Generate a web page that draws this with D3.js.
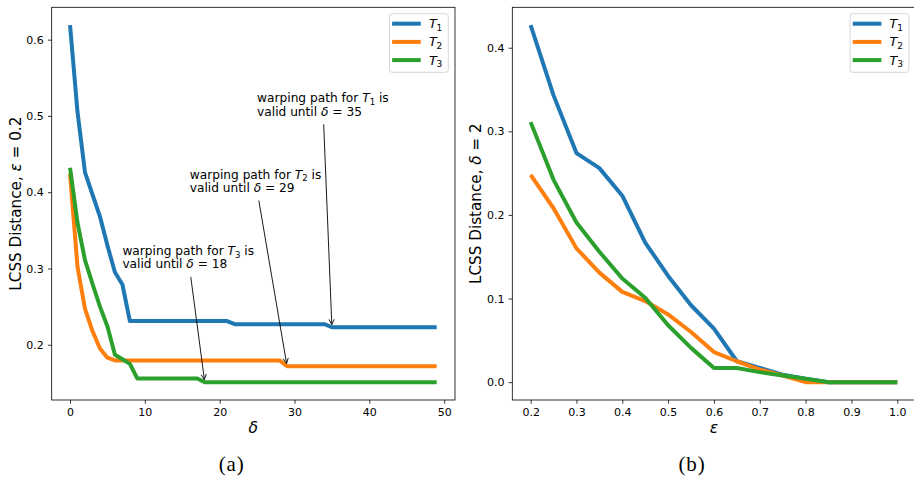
<!DOCTYPE html>
<html><head><meta charset="utf-8">
<script src="https://cdn.jsdelivr.net/npm/d3@7"></script>
<style>body{margin:0;background:#fff} text{white-space:pre}</style>
</head><body><svg id="c" width="914" height="481" font-family="DejaVu Sans, sans-serif"></svg>
<script>
// ---------- DATA ----------
// panel (a): x = delta
const deltaVals = [0,1,2,3,4,5,6,7,8,9,10,11,12,13,14,15,16,17,18,19,20,21,22,23,24,
  25,26,27,28,29,30,31,32,33,34,35,36,37,38,39,40,41,42,43,44,45,46,47,48,49];
const a_T1 = [0.619,0.505,0.426,0.397,0.368,0.330,0.295,0.279,
  0.231,0.231,0.231,0.231,0.231,0.231,0.231,0.231,0.231,0.231,0.231,0.231,0.231,0.231,
  0.227,0.227,0.227,0.227,0.227,0.227,0.227,0.227,0.227,0.227,0.227,0.227,0.227,
  0.223,0.223,0.223,0.223,0.223,0.223,0.223,0.223,0.223,0.223,0.223,0.223,0.223,0.223,0.223];
const a_T2 = [0.424,0.302,0.247,0.218,0.195,0.183,
  0.1795,0.1795,0.1795,0.1795,0.1795,0.1795,0.1795,0.1795,0.1795,0.1795,0.1795,0.1795,
  0.1795,0.1795,0.1795,0.1795,0.1795,0.1795,0.1795,0.1795,0.1795,0.1795,0.1795,
  0.172,0.172,0.172,0.172,0.172,0.172,0.172,0.172,0.172,0.172,0.172,
  0.172,0.172,0.172,0.172,0.172,0.172,0.172,0.172,0.172,0.172,0.172];
const a_T3 = [0.432,0.360,0.311,0.280,0.250,0.224,0.187,0.181,0.175,
  0.1557,0.1557,0.1557,0.1557,0.1557,0.1557,0.1557,0.1557,0.1557,
  0.151,0.151,0.151,0.151,0.151,0.151,0.151,0.151,0.151,0.151,0.151,0.151,0.151,0.151,0.151,0.151,
  0.151,0.151,0.151,0.151,0.151,0.151,0.151,0.151,0.151,0.151,0.151,0.151,0.151,0.151,0.151,0.151];
// panel (b): x = epsilon
const epsVals = [0.20,0.25,0.30,0.35,0.40,0.45,0.50,0.55,0.60,0.65,0.70,0.75,0.80,0.85,0.90,0.95,1.00];
const b_T1 = [0.427,0.343,0.274,0.256,0.223,0.167,0.127,0.092,0.064,0.025,0.017,0.009,0.004,0,0,0,0];
const b_T2 = [0.248,0.208,0.160,0.131,0.108,0.097,0.081,0.060,0.036,0.025,0.015,0.008,0.000,0,0,0,0];
const b_T3 = [0.311,0.242,0.191,0.156,0.124,0.101,0.068,0.041,0.017,0.017,0.012,0.008,0.004,0,0,0,0];
// ticks
const a_xTicks = [0,10,20,30,40,50];
const a_yTicks = [0.2,0.3,0.4,0.5,0.6];
const b_xTicks = [0.2,0.3,0.4,0.5,0.6,0.7,0.8,0.9,1.0];
const b_yTicks = [0.0,0.1,0.2,0.3,0.4];
const seriesNames = ['1','2','3'];
// annotations on panel (a)
const annSeries = [0,1,2];
const annTargetX = [35,29,18];
const annTextX = [25,16,7];
const annTextY = [0.5,0.4,0.3];

// ---------- DRAW ----------
const SANS = '"DejaVu Sans", sans-serif';
const svg = d3.select('#c');
const colors = ['#1f77b4','#ff7f0e','#2ca02c'];

function panel(o){
  const {x0,x1,y0,y1,xVals,series} = o;
  const xe = d3.extent(xVals), xp = (xe[1]-xe[0])*0.05;
  const ye = d3.extent(series.flat()), yp = (ye[1]-ye[0])*0.05;
  const x = d3.scaleLinear().domain([xe[0]-xp, xe[1]+xp]).range([x0,x1]);
  const y = d3.scaleLinear().domain([ye[0]-yp, ye[1]+yp]).range([y1,y0]);
  const g = svg.append('g').style('font-family',SANS);

  const gx = g.append('g').attr('transform',`translate(0,${y1})`)
    .call(d3.axisBottom(x).tickValues(o.xTicks).tickFormat(o.xFmt).tickSize(3.7).tickPadding(4.6).tickSizeOuter(0));
  const gy = g.append('g').attr('transform',`translate(${x0},0)`)
    .call(d3.axisLeft(y).tickValues(o.yTicks).tickFormat(d3.format('.1f')).tickSize(3.7).tickPadding(4.2).tickSizeOuter(0));
  [gx,gy].forEach(a=>{
    a.select('.domain').remove();
    a.attr('font-size',11).attr('font-family',SANS);
    a.selectAll('line').attr('stroke','#000').attr('stroke-width',0.8);
    a.selectAll('text').attr('fill','#000');
  });

  const line = d3.line().x((d,i)=>x(xVals[i])).y(d=>y(d));
  series.forEach((s,k)=>{
    g.append('path').attr('d',line(s)).attr('fill','none').attr('stroke',colors[k])
      .attr('stroke-width',4).attr('stroke-linejoin','round').attr('stroke-linecap','butt');
  });

  g.append('rect').attr('x',x0).attr('y',y0).attr('width',x1-x0).attr('height',y1-y0)
    .attr('fill','none').attr('stroke','#000').attr('stroke-width',0.8);

  // x label
  g.append('text').attr('x',(x0+x1)/2).attr('y',432.5).attr('text-anchor','middle')
    .attr('font-size',15.5).attr('font-style','italic').text(o.xLabel);
  // y label
  const yl = g.append('text').attr('transform',`translate(${o.yLabelX},${(y0+y1)/2}) rotate(-90)`)
    .attr('text-anchor','middle').attr('dominant-baseline','central').attr('font-size',15.2);
  yl.append('tspan').text('LCSS Distance, ');
  yl.append('tspan').attr('font-style','italic').text(o.yLabelSym);
  yl.append('tspan').text(' = ' + o.yLabelVal);

  // legend
  const bw = 58.8, bh = 58.6, bx = x1 - 6.7 - bw, by = y0 + 6.4;
  g.append('rect').attr('x',bx).attr('y',by).attr('width',bw).attr('height',bh).attr('rx',2.5)
    .attr('fill','#fff').attr('fill-opacity',0.8).attr('stroke','#cccccc').attr('stroke-width',0.8);
  seriesNames.forEach((n,k)=>{
    const ly = by + 10 + k*18.2;
    g.append('line').attr('x1',bx+2.6).attr('x2',bx+31.3).attr('y1',ly).attr('y2',ly)
      .attr('stroke',colors[k]).attr('stroke-width',4);
    const t = g.append('text').attr('x',bx+39.4).attr('y',ly+4.4).attr('font-size',12.6);
    t.append('tspan').attr('font-style','italic').text('T');
    t.append('tspan').attr('font-size',9).attr('dy',2.8).text(n);
  });

  // caption
  g.append('text').attr('x',o.capX).attr('y',471).attr('text-anchor','middle')
    .style('font-family','"Liberation Serif", "DejaVu Serif", serif').attr('font-size',21).attr('letter-spacing',0.8)
    .text(o.caption);
  return {x,y,g};
}

const A = panel({x0:51.7,x1:455,y0:7.3,y1:400,xVals:deltaVals,series:[a_T1,a_T2,a_T3],
  xTicks:a_xTicks,yTicks:a_yTicks,xFmt:d3.format('d'),xLabel:'δ',
  yLabelX:16,yLabelSym:'ε',yLabelVal:'0.2',capX:231.7,caption:'(a)'});
const B = panel({x0:512.3,x1:915.6,y0:7.3,y1:400,xVals:epsVals,series:[b_T1,b_T2,b_T3],
  xTicks:b_xTicks,yTicks:b_yTicks,xFmt:d3.format('.1f'),xLabel:'ε',
  yLabelX:476,yLabelSym:'δ',yLabelVal:'2',capX:692,caption:'(b)'});

// annotations
const aSeries = [a_T1,a_T2,a_T3];
annSeries.forEach((si,k)=>{
  const tx = A.x(annTextX[k]), ty = A.y(annTextY[k]);
  const fs = 12.2, lh = 13.6;
  const t = A.g.append('text').attr('font-size',fs).attr('x',tx).attr('y',ty-lh);
  t.append('tspan').text('warping path for ');
  t.append('tspan').attr('font-style','italic').text('T');
  t.append('tspan').attr('font-size',fs*0.7).attr('dy',2.7).text(seriesNames[si]);
  t.append('tspan').attr('dy',-2.7).text(' is');
  t.append('tspan').attr('x',tx).attr('y',ty).text('valid until ');
  t.append('tspan').attr('font-style','italic').text('δ');
  t.append('tspan').text(' = ' + annTargetX[k]);
  const b = t.node().getBBox();
  const pad = 2.7, shrink = 2.7;
  const cx = b.x + b.width/2, cy = b.y + b.height/2;
  const W = b.width/2 + pad, H = b.height/2 + pad;
  const px = A.x(annTargetX[k]), py = A.y(aSeries[si][annTargetX[k]]);
  const dx = px - cx, dy = py - cy, L = Math.hypot(dx,dy), ux = dx/L, uy = dy/L;
  const s = Math.min(Math.abs(dx)>1e-9 ? W/Math.abs(dx) : Infinity, Math.abs(dy)>1e-9 ? H/Math.abs(dy) : Infinity);
  const sx = cx + s*dx + shrink*ux, sy = cy + s*dy + shrink*uy;
  const ex = px - shrink*ux, ey = py - shrink*uy;
  A.g.append('line').attr('x1',sx).attr('y1',sy).attr('x2',ex).attr('y2',ey)
    .attr('stroke','#000').attr('stroke-width',0.9);
  const hl = 5.2, hw = 2.6;
  const bxp = ex - hl*ux, byp = ey - hl*uy;
  A.g.append('path')
    .attr('d',`M${bxp - hw*uy},${byp + hw*ux}L${ex},${ey}L${bxp + hw*uy},${byp - hw*ux}`)
    .attr('fill','none').attr('stroke','#000').attr('stroke-width',0.9);
});
</script></body></html>
